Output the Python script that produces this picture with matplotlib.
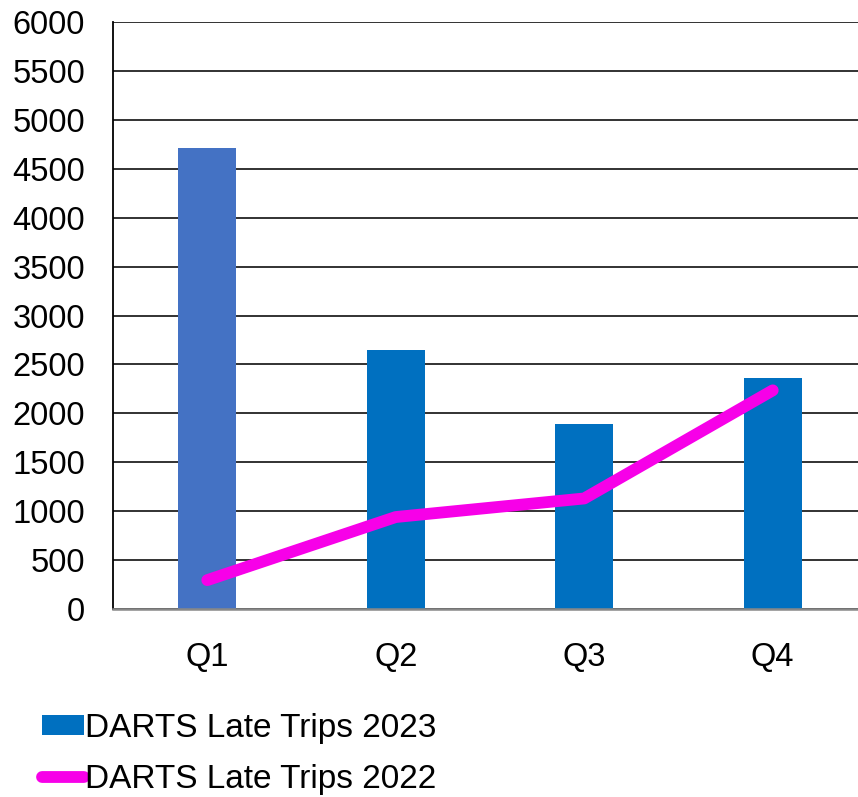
import matplotlib.pyplot as plt
from matplotlib.patches import Patch
from matplotlib.lines import Line2D

quarters = ['Q1', 'Q2', 'Q3', 'Q4']
late_2023 = [4710, 2650, 1890, 2365]
late_2022 = [295, 940, 1130, 2235]
bar_colors = ['#4472C4', '#0070C0', '#0070C0', '#0070C0']
yticks = list(range(0, 6001, 500))

plt.rcParams['font.family'] = ['Liberation Sans', 'DejaVu Sans']

fig = plt.figure(figsize=(8.58, 7.97), dpi=100)
ax = fig.add_axes([113 / 858, 188 / 797, (858 - 113) / 858, 587 / 797])

x = list(range(len(quarters)))
ax.bar(x, late_2023, width=0.31, color=bar_colors, zorder=2)
ax.plot(x, late_2022, color='#F700E8', linewidth=8.5, solid_capstyle='round', zorder=3)

ax.set_ylim(0, 6000)
ax.set_xlim(-0.5, -0.5 + (858 - 113) / 188.5)
ax.set_yticks(yticks)
ax.set_xticks(x)
ax.set_xticklabels(quarters)
ax.tick_params(axis='both', length=0, labelsize=23.5, colors='black')
ax.tick_params(axis='y', pad=20)
ax.tick_params(axis='x', pad=24)

ax.yaxis.grid(True, color='#222222', linewidth=1.3, zorder=0)
ax.set_axisbelow(True)
for side in ['top', 'right']:
    ax.spines[side].set_visible(False)
ax.spines['left'].set_color('black')
ax.spines['left'].set_linewidth(1.3)
ax.spines['bottom'].set_color('#888888')
ax.spines['bottom'].set_linewidth(1.8)

handles = [Patch(facecolor='#0070C0'),
           Line2D([0], [0], color='#F700E8', linewidth=8.5, solid_capstyle='round')]
labels = ['DARTS Late Trips 2023', 'DARTS Late Trips 2022']
fig.legend(handles, labels, loc='upper left', bbox_to_anchor=(42 / 858, 1 - 713 / 797),
           frameon=False, fontsize=24, handlelength=1.25, handleheight=0.55,
           handletextpad=0.03, labelspacing=0.6, borderpad=0, borderaxespad=0)

fig.savefig('out.png', dpi=100)
